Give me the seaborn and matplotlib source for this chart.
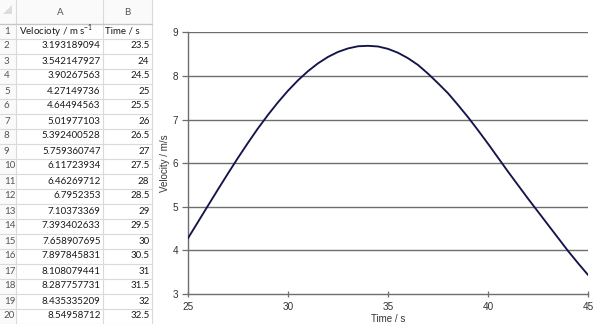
import matplotlib
matplotlib.use("Agg")
import matplotlib.pyplot as plt
import seaborn as sns
import pandas as pd

# ---- spreadsheet contents (left panel) ----
sheet_rows = list(range(1, 21))
sheet_velocity = ["3.193189094", "3.542147927", "3.90267563", "4.27149736", "4.64494563",
                  "5.01977103", "5.392400528", "5.759360747", "6.11723934", "6.46269712",
                  "6.7952353", "7.10373369", "7.393402633", "7.658907695", "7.897845831",
                  "8.108079441", "8.287757731", "8.435335209", "8.54958712"]
sheet_time = ["23.5", "24", "24.5", "25", "25.5", "26", "26.5", "27", "27.5", "28",
              "28.5", "29", "29.5", "30", "30.5", "31", "31.5", "32", "32.5"]

# ---- chart data ----
time_s = [25, 25.5, 26, 26.5, 27, 27.5, 28, 28.5, 29, 29.5, 30, 30.5, 31, 31.5, 32, 32.5,
          33, 33.5, 34, 34.5, 35, 35.5, 36, 36.5, 37, 37.5, 38, 38.5, 39, 39.5, 40, 40.5,
          41, 41.5, 42, 42.5, 43, 43.5, 44, 44.5, 45]
velocity = [4.27149736, 4.64494563, 5.01977103, 5.392400528, 5.759360747, 6.11723934,
            6.46269712, 6.7952353, 7.10373369, 7.393402633, 7.658907695, 7.897845831,
            8.108079441, 8.287757731, 8.435335209, 8.54958712,
            8.63, 8.68, 8.69, 8.675, 8.62, 8.53, 8.405, 8.25, 8.05, 7.83, 7.60, 7.33,
            7.05, 6.75, 6.44, 6.12, 5.80, 5.49, 5.18, 4.88, 4.58, 4.28, 3.98, 3.70, 3.43]
x_ticks = [25, 30, 35, 40, 45]
y_ticks = [3, 4, 5, 6, 7, 8, 9]

sns.set_style("white")
W, H, DPI = 598, 324, 100
fig = plt.figure(figsize=(W / DPI, H / DPI), dpi=DPI)
fig.patch.set_facecolor("white")

# ---- spreadsheet panel, in pixel coordinates ----
sh = fig.add_axes([0, 0, 1, 1])
sh.set_xlim(0, W)
sh.set_ylim(H, 0)
sh.axis("off")
grid_c = "#dadada"
col_x = [0, 16, 103, 152]
hdr_bottom = 23.5
row_h = 15
sh.fill_between([0, 152], 0, hdr_bottom, color="#fafafa", lw=0)
sh.fill_between([0, 16], hdr_bottom, H, color="#fafafa", lw=0)
for cx in col_x[1:]:
    sh.plot([cx, cx], [0, H], color=grid_c, lw=0.8)
for k in range(0, 21):
    yy = hdr_bottom + k * row_h
    sh.plot([0, 152], [yy, yy], color=grid_c, lw=0.8)
sh.plot([0, 152], [hdr_bottom, hdr_bottom], color="#c6c6c6", lw=0.9)
sh.fill([3, 12, 12], [14, 14, 5], color="#dcdcdc", lw=0)
fs = 7.0
font = "Lato"
sh.text(60, 12.5, "A", ha="center", va="center", fontsize=fs, family=font, color="#555555")
sh.text(127, 12.5, "B", ha="center", va="center", fontsize=fs, family=font, color="#555555")
for i, r in enumerate(sheet_rows):
    yc = hdr_bottom + (i + 0.5) * row_h
    sh.text(4, yc, str(r), ha="left", va="center", fontsize=fs, family=font, color="#555555")
yc1 = hdr_bottom + 0.5 * row_h
sh.text(19, yc1, r"Velocioty / m s$^{\mathregular{-1}}$", ha="left", va="center",
        fontsize=fs, family=font, color="#1a1a1a")
sh.text(105, yc1, "Time / s", ha="left", va="center", fontsize=fs, family=font, color="#1a1a1a")
for i, (v, t) in enumerate(zip(sheet_velocity, sheet_time)):
    yc = hdr_bottom + (i + 1.5) * row_h
    sh.text(100.5, yc, v, ha="right", va="center", fontsize=fs, family=font, color="#1a1a1a")
    sh.text(149.5, yc, t, ha="right", va="center", fontsize=fs, family=font, color="#1a1a1a")

# ---- chart ----
left, right, top, bottom = 187.8, 588.3, 32.3, 294.0
ax = fig.add_axes([left / W, 1 - bottom / H, (right - left) / W, (bottom - top) / H])
ax.set_facecolor("white")
df = pd.DataFrame({"Time": time_s, "Velocity": velocity})
for yv in y_ticks[1:]:
    ax.axhline(yv, color="#6e6e6e", lw=1.0, zorder=1)
sns.lineplot(data=df, x="Time", y="Velocity", ax=ax, color="#14144a", lw=1.35, zorder=3)
ax.set_xlim(25, 45)
ax.set_ylim(3, 9)
ax.set_xticks(x_ticks)
ax.set_yticks(y_ticks)
for s in ["top", "right"]:
    ax.spines[s].set_visible(False)
for s in ["left", "bottom"]:
    ax.spines[s].set_visible(True)
    ax.spines[s].set_color("#6e6e6e")
    ax.spines[s].set_linewidth(1.0)
tick_font = "Liberation Sans"
ax.tick_params(axis="x", direction="inout", length=5, width=0.9, color="#6e6e6e",
               labelsize=7.2, labelcolor="#333333", pad=3, bottom=True)
ax.tick_params(axis="y", direction="out", length=4, width=0.9, color="#6e6e6e",
               labelsize=7.2, labelcolor="#333333", pad=3, left=True)
for lab in ax.get_xticklabels() + ax.get_yticklabels():
    lab.set_family(tick_font)
ax.set_xlabel("Time / s", fontsize=7.0, family=tick_font, color="#333333", labelpad=1.5)
ax.set_ylabel("Velocity / m/s", fontsize=7.0, family=tick_font, color="#333333", labelpad=2)

fig.savefig("out.png", dpi=DPI, facecolor="white")
